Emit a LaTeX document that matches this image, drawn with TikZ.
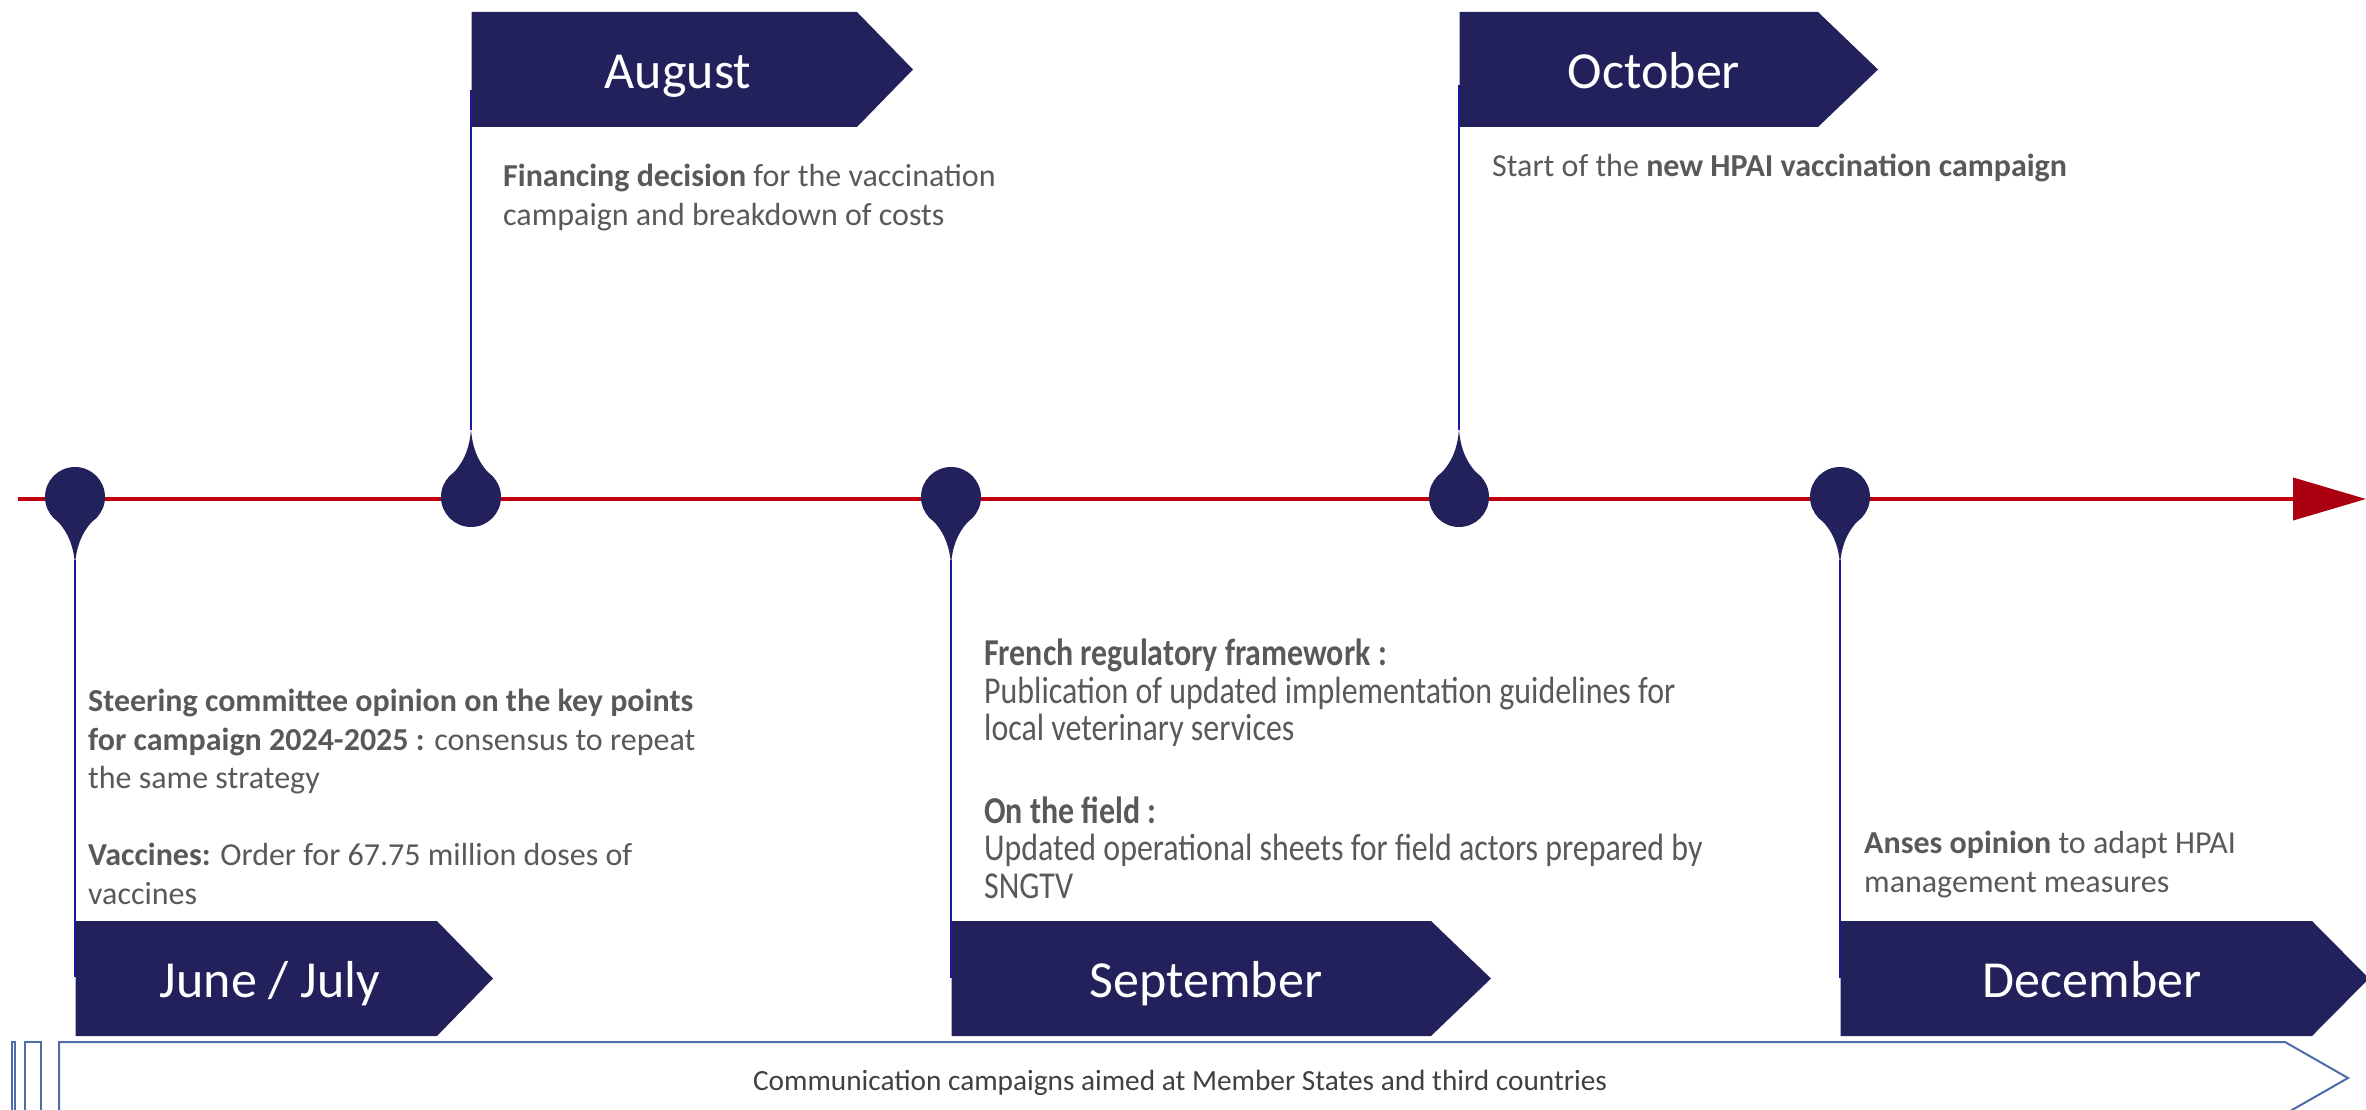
\documentclass[tikz,border=0pt]{standalone}
\usepackage{fontspec}
\setmainfont{Carlito}
\newfontfamily\narrowfont[FakeStretch=0.84]{Carlito}
\usetikzlibrary{arrows.meta}
\definecolor{navy}{RGB}{34,33,91}
\definecolor{tlred}{RGB}{192,0,16}
\definecolor{headred}{RGB}{170,0,17}
\definecolor{stemblue}{RGB}{24,24,160}
\definecolor{bodygray}{RGB}{89,89,89}
\definecolor{bandline}{RGB}{80,108,168}
\definecolor{bandtext}{RGB}{64,64,64}
\tikzset{
  monthbox/.style={fill=navy},
  month/.style={anchor=base, text=white, inner sep=0, font=\fontsize{52}{60}\selectfont},
  desc/.style={anchor=north west, inner sep=0, align=left, text=bodygray, font=\fontsize{32}{38.5}\selectfont},
  narrowdesc/.style={anchor=north west, inner sep=0, align=left, text=bodygray, font=\narrowfont\fontsize{38}{37.5}\selectfont},
  stemline/.style={draw=stemblue, line width=2},
  band/.style={draw=bandline, line width=2},
  pin/.pic={
    \fill[navy] (0,0) circle[radius=30];
    \fill[navy] (-23,19) .. controls (-10,30) and (-1.5,45) .. (0,68)
                 .. controls (1.5,45) and (10,30) .. (23,19) -- cycle;
  }
}
\begin{document}
\begin{tikzpicture}[x=1pt,y=-1pt]
\useasboundingbox (0,0) rectangle (2366,1110);

% stems
\coordinate (s1a) at (75,560);   \coordinate (s1b) at (75,977);
\coordinate (s2a) at (471,430);  \coordinate (s2b) at (471,90);
\coordinate (s3a) at (951,560);  \coordinate (s3b) at (951,978);
\coordinate (s4a) at (1459,430); \coordinate (s4b) at (1459,85);
\coordinate (s5a) at (1840,560); \coordinate (s5b) at (1840,978);
\draw[stemline] (s1a) -- (s1b);
\draw[stemline] (s2a) -- (s2b);
\draw[stemline] (s3a) -- (s3b);
\draw[stemline] (s4a) -- (s4b);
\draw[stemline] (s5a) -- (s5b);

% timeline
\coordinate (tlstart) at (18,499);
\coordinate (tlend) at (2366,499);
\draw[tlred, line width=4, -{Triangle[length=73pt,width=42pt,color=headred]}] (tlstart) -- (tlend);

% pins
\pic at (75,497) {pin};
\pic[yscale=-1] at (471,497) {pin};
\pic at (951,497) {pin};
\pic[yscale=-1] at (1459,497) {pin};
\pic at (1840,497) {pin};

% month boxes
\fill[monthbox] (75.5,921) -- (437,921) -- (493,978.5) -- (437,1036) -- (75.5,1036) -- cycle;
\fill[monthbox] (471.5,12) -- (857,12) -- (913,69.5) -- (857,127) -- (471.5,127) -- cycle;
\fill[monthbox] (951.5,921) -- (1431,921) -- (1491,978.5) -- (1431,1036) -- (951.5,1036) -- cycle;
\fill[monthbox] (1459.5,12) -- (1818,12) -- (1878,69.5) -- (1818,127) -- (1459.5,127) -- cycle;
\fill[monthbox] (1840.5,921) -- (2312,921) -- (2369,978.5) -- (2312,1036) -- (1840.5,1036) -- cycle;

\node[month] (mjun) at (270,997) {June / July};
\node[month] (maug) at (678,89) {August};
\node[month] (msep) at (1206,997) {September};
\node[month] (moct) at (1654,89) {October};
\node[month] (mdec) at (2092,997) {December};

% descriptions
\node[desc] (taug) at (503,164) {\textbf{Financing decision} for the vaccination\\campaign and breakdown of costs};
\node[desc] (toct) at (1492,154) {Start of the \textbf{new HPAI vaccination campaign}};
\node[desc] (tjun) at (88,689) {\textbf{Steering committee opinion on the key points}\\\textbf{for campaign 2024-2025 :} consensus to repeat\\the same strategy\\[38.5pt]\textbf{Vaccines:} Order for 67.75 million doses of\\vaccines};
\node[narrowdesc] (tsep) at (984,639) {\textbf{French regulatory framework :}\\Publication of updated implementation guidelines for\\local veterinary services\\[45pt]\textbf{On the field :}\\Updated operational sheets for field actors prepared by\\SNGTV};
\node[desc] (tdec) at (1864,831) {\textbf{Anses opinion} to adapt HPAI\\management measures};

% bottom band
\draw[band] (12,1125) -- (12,1042) -- (15,1042) -- (15,1125);
\draw[band] (25,1125) -- (25,1042) -- (41,1042) -- (41,1125);
\draw[band] (59,1125) -- (59,1042) -- (2285,1042) -- (2348,1078) -- (2285,1114);
\node[anchor=base, inner sep=0, text=bandtext, font=\fontsize{29.3}{34}\selectfont] (bandtxt) at (1180,1090) {Communication campaigns aimed at Member States and third countries};
\end{tikzpicture}
\end{document}
